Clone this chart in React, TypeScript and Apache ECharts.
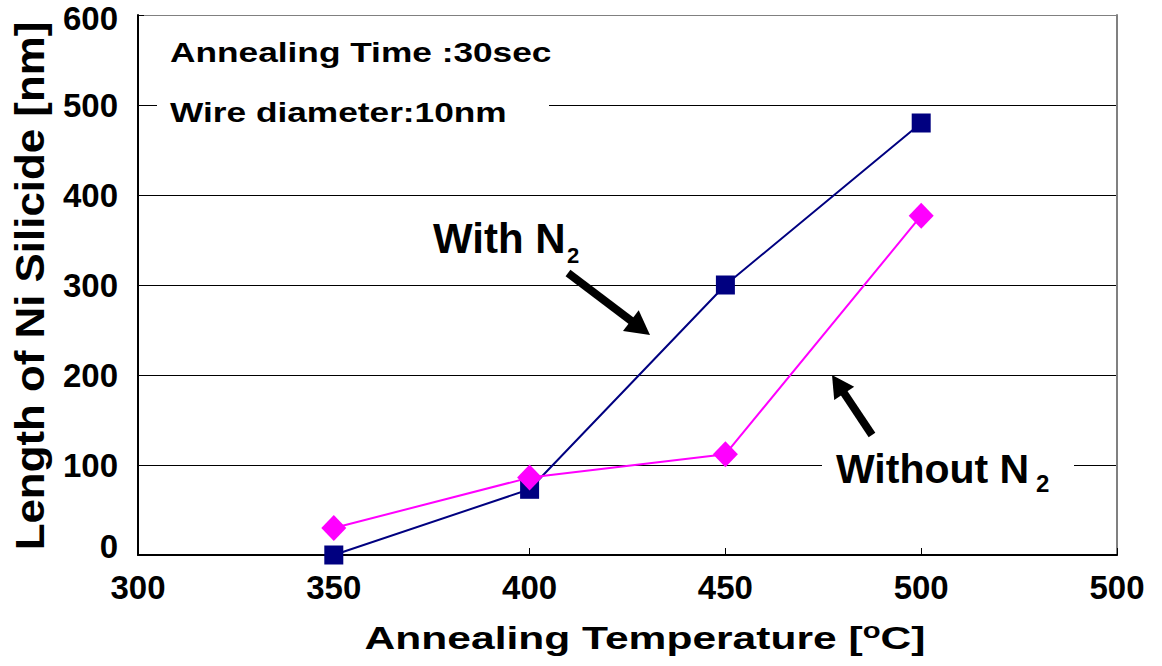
import React, { useEffect, useRef } from "react";
import * as echarts from "echarts";

const temperatures = [350, 400, 450, 500];
const withN2 = [0, 73, 300, 480];
const withoutN2 = [30, 86, 112, 377];
const xTickLabels: Record<number, string> = { 300: "300", 350: "350", 400: "400", 450: "450", 500: "500", 550: "500" };
const yTicks = [0, 100, 200, 300, 400, 500, 600];

const FONT = "'Liberation Sans', Arial, sans-serif";

export default function App() {
  const ref = useRef<HTMLDivElement>(null);
  useEffect(() => {
    document.body.style.margin = "0";
    const chart = echarts.init(ref.current!, null, { renderer: "svg" });
    const arrow = (x1: number, y1: number, x2: number, y2: number, hl: number, hw: number) => {
      const dx = x2 - x1, dy = y2 - y1;
      const L = Math.sqrt(dx * dx + dy * dy);
      const ux = dx / L, uy = dy / L;
      const bx = x2 - ux * hl, by = y2 - uy * hl;
      const px = -uy * hw, py = ux * hw;
      return [
        { type: "line", shape: { x1, y1, x2: bx + ux * 2, y2: by + uy * 2 }, style: { stroke: "#000", lineWidth: 8 }, z: 100 },
        { type: "polygon", shape: { points: [[x2, y2], [bx + px, by + py], [bx - px, by - py]] }, style: { fill: "#000" }, z: 100 },
      ];
    };
    const txt = (text: string, x: number, y: number, size: number, sx = 1, align = "left", extra: any = {}) => ({
      type: "text", x, y, scaleX: sx, z: 101, ...extra,
      style: { text, fontSize: size, fontWeight: "bold", fontFamily: FONT, fill: "#000", textAlign: align, textVerticalAlign: "middle", ...(extra.style || {}) },
    });
    const bg = (x: number, y: number, w: number, h: number) => ({
      type: "rect", shape: { x, y, width: w, height: h }, style: { fill: "#fff" }, z: 99,
    });
    const labelStyle = { fontSize: 33, fontWeight: "bold", color: "#000", fontFamily: FONT };
    chart.setOption({
      animation: false,
      backgroundColor: "#fff",
      textStyle: { fontFamily: FONT },
      grid: { left: 138, top: 15, width: 979, height: 540, outerBoundsMode: "none", containLabel: false },
      xAxis: {
        type: "value", min: 300, max: 550, interval: 50,
        axisLine: { show: true, onZero: false, lineStyle: { color: "#000", width: 2 } },
        axisTick: { show: true, inside: true, length: 7, lineStyle: { color: "#000" } },
        splitLine: { show: false },
        axisLabel: { formatter: (v: number) => xTickLabels[v] ?? String(v), ...labelStyle, margin: 16 },
      },
      yAxis: [
        {
          type: "value", min: 0, max: 600, interval: 100,
          axisLine: { show: true, lineStyle: { color: "#000", width: 2 } },
          axisTick: { show: true, inside: true, length: 6, lineStyle: { color: "#000" } },
          splitLine: { show: true, lineStyle: { color: yTicks.map((t) => (t === 600 ? "#808080" : "#000")), width: 1 } },
          axisLabel: {
            ...labelStyle, margin: 20,
            formatter: (v: number) => (v === yTicks[yTicks.length - 1] ? `{top|${v}}` : v === yTicks[0] ? `{bot|${v}}` : String(v)),
            rich: {
              top: { ...labelStyle, padding: [6, 0, 0, 0] },
              bot: { ...labelStyle, padding: [0, 0, 18, 0] },
            },
          },
        },
        {
          type: "value", min: 0, max: 600, interval: 100, position: "right",
          axisLine: { show: true, lineStyle: { color: "#808080", width: 2 } },
          axisTick: { show: false }, axisLabel: { show: false }, splitLine: { show: false },
        },
      ],
      series: [
        {
          name: "With N2", type: "line", data: temperatures.map((t, i) => [t, withN2[i]]),
          symbol: "rect", symbolSize: 19, itemStyle: { color: "#000080" },
          lineStyle: { color: "#000080", width: 2 }, z: 3,
        },
        {
          name: "Without N2", type: "line", data: temperatures.map((t, i) => [t, withoutN2[i]]),
          symbol: "diamond", symbolSize: [25, 26], itemStyle: { color: "#FF00FF" },
          lineStyle: { color: "#FF00FF", width: 2 }, z: 4,
        },
      ],
      graphic: [
        txt("Annealing Time :30sec", 170, 52, 28, 1.26),
        bg(157, 92, 392, 40),
        txt("Wire diameter:10nm", 170, 112, 28, 1.26),
        txt("With N", 433, 238, 42),
        txt("2", 567, 255, 22),
        bg(822, 448, 252, 44),
        txt("Without N", 836, 469, 41),
        txt("2", 1036, 483, 24),
        ...arrow(568, 273, 650, 335, 24, 13),
        ...arrow(872, 435, 832, 375, 22, 12),
        txt("Annealing Temperature [{sup|o}C]", 645, 638, 32, 1.33, "center", {
          style: { rich: { sup: { fontSize: 22, fontWeight: "bold", fontFamily: FONT, fill: "#000", padding: [0, 0, 16, 0] } } },
        }),
        txt("Length of Ni Silicide [nm]", 30, 286, 41, 1.07, "center", { rotation: Math.PI / 2 }),
      ],
    });
    return () => chart.dispose();
  }, []);
  return <div ref={ref} style={{ position: "absolute", left: 0, top: 0, width: 1162, height: 666 }} />;
}
